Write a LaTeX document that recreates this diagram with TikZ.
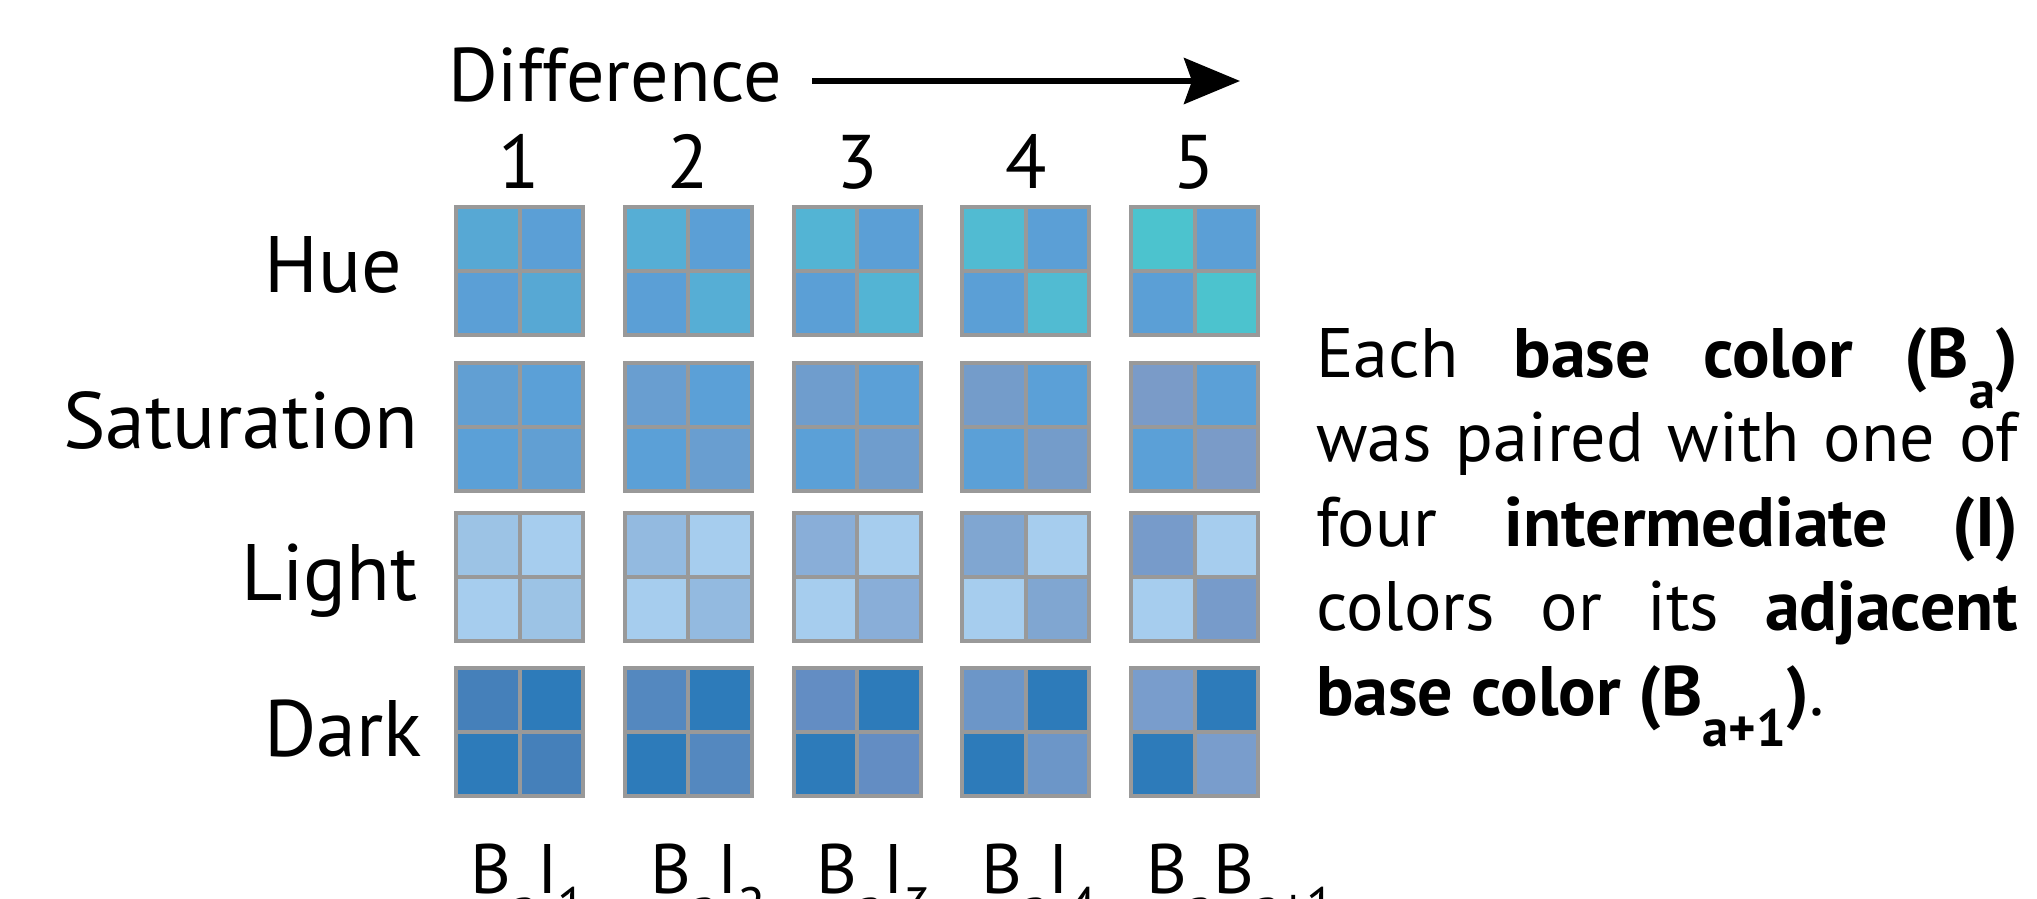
\documentclass[tikz,border=0pt]{standalone}
\usepackage{fontspec}
\usepackage{graphicx}
\setmainfont{PT Sans}
\usetikzlibrary{arrows.meta}
\definecolor{gridgray}{HTML}{999999}
% base colours per row
\definecolor{B-1}{HTML}{5B9FD6}
\definecolor{B-2}{HTML}{5BA0D7}
\definecolor{B-3}{HTML}{A6CDEE}
\definecolor{B-4}{HTML}{2D7BBA}
% intermediates: row-column
\definecolor{I-1-1}{HTML}{57A8D4}
\definecolor{I-1-2}{HTML}{56AED5}
\definecolor{I-1-3}{HTML}{53B4D4}
\definecolor{I-1-4}{HTML}{51BBD2}
\definecolor{I-1-5}{HTML}{4CC3CE}
\definecolor{I-2-1}{HTML}{619FD3}
\definecolor{I-2-2}{HTML}{699ED0}
\definecolor{I-2-3}{HTML}{6F9DCD}
\definecolor{I-2-4}{HTML}{749CCA}
\definecolor{I-2-5}{HTML}{7A9BC8}
\definecolor{I-3-1}{HTML}{9CC3E5}
\definecolor{I-3-2}{HTML}{93BAE0}
\definecolor{I-3-3}{HTML}{89AED8}
\definecolor{I-3-4}{HTML}{80A6D1}
\definecolor{I-3-5}{HTML}{779BCA}
\definecolor{I-4-1}{HTML}{4580BA}
\definecolor{I-4-2}{HTML}{5488BF}
\definecolor{I-4-3}{HTML}{638DC3}
\definecolor{I-4-4}{HTML}{6C96C8}
\definecolor{I-4-5}{HTML}{799DCC}
\newcommand\lowsub[1]{\raisebox{-0.45em}{\scalebox{0.75}{#1}}}
\tikzset{
  cell/.style={rectangle, draw=gridgray, line width=4pt, minimum width=63.5pt,
    minimum height=64pt, inner sep=0pt, outer sep=0pt},
  headtext/.style={inner sep=0pt, font=\fontsize{76}{82}\selectfont},
  rowlabel/.style={inner sep=0pt, anchor=base east, font=\fontsize{80}{86}\selectfont},
  paraline/.style={inner sep=0pt, anchor=base west, font=\fontsize{70}{84}\selectfont},
  pairlabel/.style={inner sep=0pt, anchor=base west, font=\fontsize{70}{84}\selectfont},
}
\begin{document}
\begin{tikzpicture}[x=1pt,y=-1pt]
\useasboundingbox (0,0) rectangle (2037,899);
\clip (0,0) rectangle (2037,899);
% header
\node[headtext, anchor=base west] (diff) at (448,101) {Difference};
\coordinate (arrowstart) at (812,81);
\coordinate (arrowend) at (1240,81);
\draw[line width=5.5pt, -{Stealth[length=56pt, width=46pt, inset=8pt]}] (arrowstart) -- (arrowend);
\foreach \c in {1,...,5}{
  \pgfmathsetmacro{\cx}{456+168.75*(\c-1)+63.5}
  \node[headtext, anchor=base] (num-\c) at (\cx,188) {\c};
}
% grid of swatches
\foreach \r/\top in {1/207,2/363,3/513,4/668}{
  \foreach \c in {1,...,5}{
    \pgfmathsetmacro{\lx}{456+168.75*(\c-1)+31.75}
    \pgfmathsetmacro{\rx}{456+168.75*(\c-1)+95.25}
    \pgfmathsetmacro{\ty}{\top+32}
    \pgfmathsetmacro{\by}{\top+96}
    \node[cell, fill=I-\r-\c] (s-\r-\c-tl) at (\lx,\ty) {};
    \node[cell, fill=B-\r]    (s-\r-\c-tr) at (\rx,\ty) {};
    \node[cell, fill=B-\r]    (s-\r-\c-bl) at (\lx,\by) {};
    \node[cell, fill=I-\r-\c] (s-\r-\c-br) at (\rx,\by) {};
  }
}
% row labels
\node[rowlabel] (hue) at (402,292) {Hue};
\node[rowlabel] (sat) at (418,448) {Saturation};
\node[rowlabel] (light) at (418,600) {Light};
\node[rowlabel] (dark) at (422,756) {Dark};
% bottom pair labels
\node[pairlabel] (p1) at (470,893) {B\lowsub{a}I\lowsub{1}};
\node[pairlabel] (p2) at (650,893) {B\lowsub{a}I\lowsub{2}};
\node[pairlabel] (p3) at (816,893) {B\lowsub{a}I\lowsub{3}};
\node[pairlabel] (p4) at (981,893) {B\lowsub{a}I\lowsub{4}};
\node[pairlabel] (p5) at (1146,893) {B\lowsub{a}B\lowsub{a+1}};
% explanation paragraph
\node[paraline] (l1) at (1316,377) {\makebox[702pt][s]{Each \textbf{base color (B\lowsub{a})}}};
\node[paraline] (l2) at (1316,461) {\makebox[702pt][s]{was paired with one of}};
\node[paraline] (l3) at (1316,546) {\makebox[702pt][s]{four \textbf{intermediate (I)}}};
\node[paraline] (l4) at (1316,630) {\makebox[702pt][s]{colors or its \textbf{adjacent}}};
\node[paraline] (l5) at (1316,715) {\textbf{base color (B\lowsub{a+1})}.};
\end{tikzpicture}
\end{document}
